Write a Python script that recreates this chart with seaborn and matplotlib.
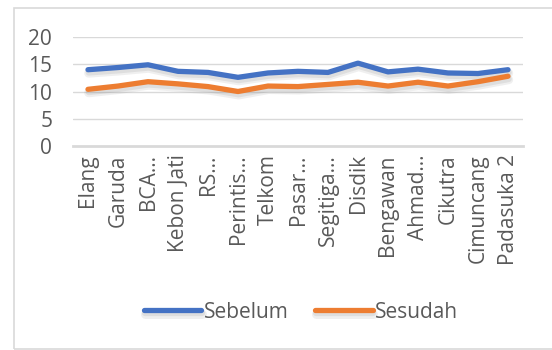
import matplotlib
matplotlib.use("Agg")
import matplotlib.pyplot as plt
import matplotlib.patheffects as pe
from matplotlib.patches import Rectangle
import pandas as pd
import seaborn as sns

locations = ["Elang", "Garuda", "BCA…", "Kebon Jati", "RS…", "Perintis…", "Telkom",
             "Pasar…", "Segitiga…", "Disdik", "Bengawan", "Ahmad…", "Cikutra",
             "Cimuncang", "Padasuka 2"]
sebelum = [14.0, 14.4, 14.9, 13.7, 13.5, 12.6, 13.4, 13.7, 13.5, 15.2, 13.6, 14.1, 13.4, 13.3, 14.0]
sesudah = [10.4, 11.0, 11.8, 11.4, 10.9, 10.0, 11.0, 10.9, 11.3, 11.7, 11.0, 11.7, 11.0, 11.8, 12.8]
series_names = ["Sebelum", "Sesudah"]
colors = ["#4472C4", "#ED7D31"]
y_ticks = [0, 5, 10, 15, 20]

df = pd.DataFrame({
    "Lokasi": locations * 2,
    "Nilai": sebelum + sesudah,
    "Seri": [series_names[0]] * len(locations) + [series_names[1]] * len(locations),
    "pos": list(range(len(locations))) * 2,
})

sns.set_theme(style="white")
plt.rcParams["font.family"] = ["Open Sans", "DejaVu Sans"]
text_color = "#595959"
grid_color = "#D9D9D9"
fs = 15

fig = plt.figure(figsize=(5.52, 3.5), dpi=100)
ax = fig.add_axes([73 / 552, 1 - 146 / 350, (523 - 73) / 552, (146 - 37) / 350])

sns.lineplot(data=df, x="pos", y="Nilai", hue="Seri", palette=colors,
             linewidth=3.8, ax=ax, sort=False, legend=True)

for line in ax.get_lines():
    line.set_solid_capstyle("round")
    line.set_solid_joinstyle("round")
    line.set_path_effects([
        pe.SimpleLineShadow(offset=(0.5, -2.5), shadow_color="#808080", alpha=0.12, linewidth=6.5),
        pe.SimpleLineShadow(offset=(0.5, -2.0), shadow_color="#808080", alpha=0.15, linewidth=4.5),
        pe.Normal(),
    ])

ax.set_xlim(-0.5, len(locations) - 0.5)
ax.set_ylim(0, 20)
ax.set_yticks(y_ticks)
ax.set_yticklabels([str(v) for v in y_ticks], fontsize=fs, color=text_color)
ax.set_xticks(range(len(locations)))
ax.set_xticklabels(locations, rotation=90, fontsize=fs, color=text_color)
ax.tick_params(axis="x", length=0, pad=6)
ax.tick_params(axis="y", length=0, pad=15)
ax.set_xlabel("")
ax.set_ylabel("")

for v in y_ticks[1:]:
    ax.axhline(v, color=grid_color, linewidth=1.0, zorder=0)
for side in ["top", "right", "left"]:
    ax.spines[side].set_visible(False)
ax.spines["bottom"].set_color(grid_color)
ax.spines["bottom"].set_linewidth(2.0)

handles, labels = ax.get_legend_handles_labels()
ax.legend_.remove()
for h in handles:
    h.set_linewidth(3.8)
    h.set_solid_capstyle("round")
fig.legend(handles, labels, loc="center", bbox_to_anchor=(301 / 552, 1 - 312 / 350),
           ncol=2, frameon=False, fontsize=fs, handlelength=2.75, handletextpad=0.1,
           columnspacing=1.3, labelcolor=text_color)

fig.patches.append(Rectangle((13.5 / 552, 1.5 / 350), (570 - 13.5) / 552, (342 - 1.5) / 350,
                             transform=fig.transFigure, fill=False,
                             edgecolor=grid_color, linewidth=1.2, clip_on=False))

fig.savefig("out.png", dpi=100)
